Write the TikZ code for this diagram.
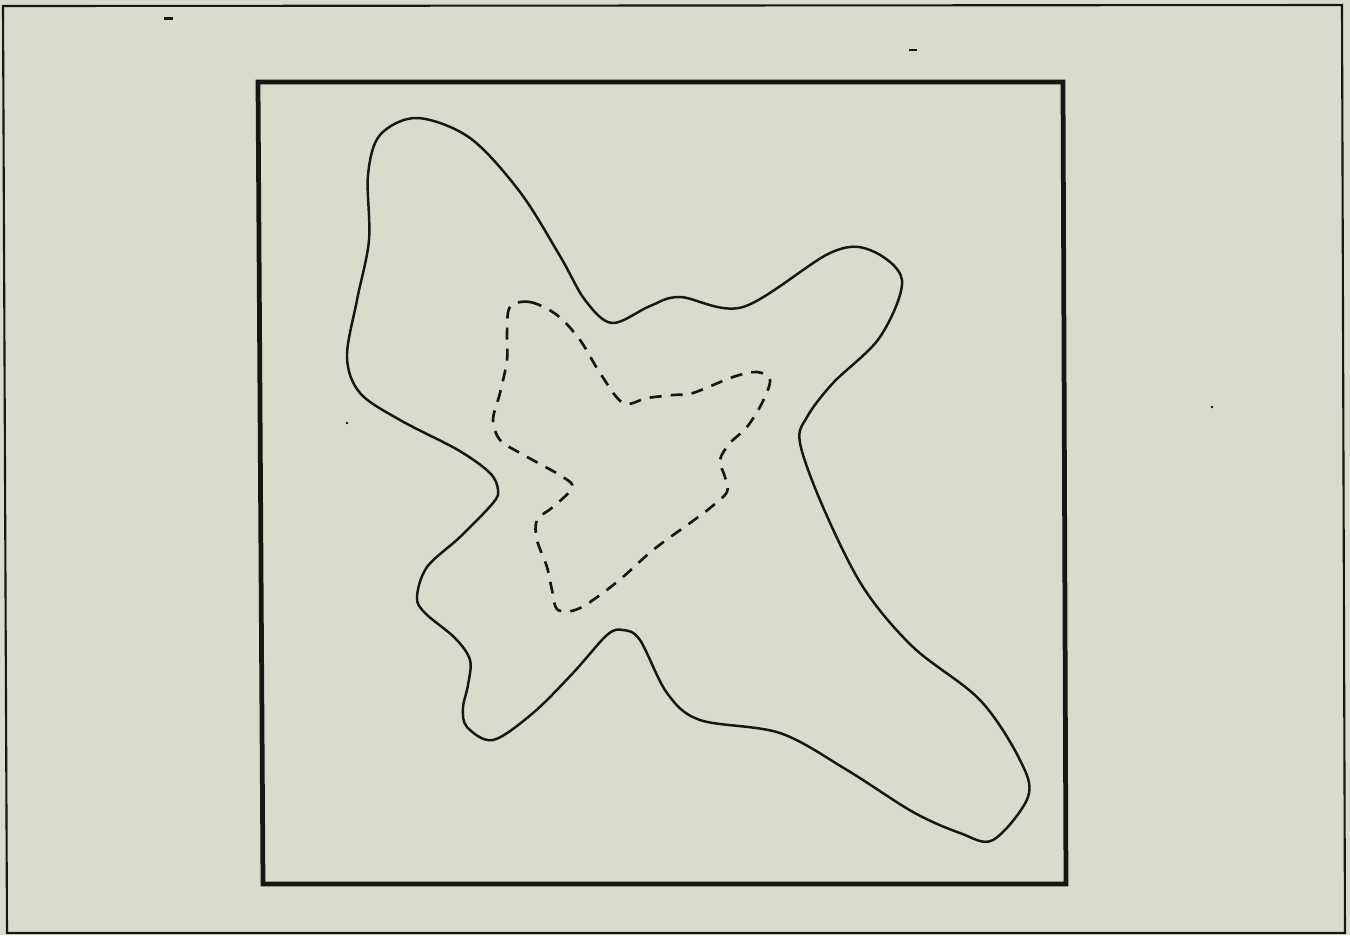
\documentclass[tikz,border=0pt]{standalone}
\definecolor{paper}{RGB}{217,219,203}
\definecolor{ink}{RGB}{22,22,18}
\tikzset{
  frameline/.style={draw=ink, line width=0.6pt},
  squareline/.style={draw=ink, line width=1.35pt, line join=miter},
  blobline/.style={draw=ink, line width=0.7pt},
  dashline/.style={draw=ink, line width=0.75pt, dash pattern=on 3.4pt off 2.6pt},
  speck/.style={fill=ink}
}
\begin{document}
\begin{tikzpicture}[x=0.01cm, y=-0.01cm]
\useasboundingbox (0,0) rectangle (1350,935);
\fill[paper] (0,0) rectangle (1350,935);
% outer frame
\draw[frameline] (3,6) -- (1342,5) -- (1345,933) -- (7,933) -- cycle;
% inner square
\draw[squareline] (258,82) -- (1063,82) -- (1066,884) -- (263,884) -- cycle;
% solid blob
\draw[blobline] plot[smooth cycle, tension=0.55] coordinates {
 (417,118) (470,138) (520,192) (560,256) (585,300) (612,323) (650,306)
 (680,297) (743,307) (830,253) (870,250) (902,280) (880,337) (833,383)
 (807,417) (800,443) (823,507) (863,587) (913,647) (980,700) (1020,760)
 (1028,797) (993,840) (960,833) (913,812) (847,770) (780,733) (700,720)
 (667,693) (640,640) (623,630) (607,635) (573,673) (533,713) (493,740)
 (467,727) (463,708) (468,685) (470,660) (455,638) (425,613) (417,597)
 (427,567) (460,537) (493,503) (498,490) (490,473) (458,450) (400,420)
 (360,393) (347,357) (357,300) (369,240) (368,175) (380,135)
};
% dashed inner curve
\draw[dashline] plot[smooth cycle, tension=0.55] coordinates {
 (510,307) (530,302) (557,315) (580,340) (600,373) (623,403) (647,398)
 (673,395) (693,393) (733,377) (757,372) (770,380) (762,403) (747,427)
 (730,443) (720,460) (725,477) (727,492) (710,508) (690,523) (653,550)
 (617,582) (580,608) (558,610) (552,590) (547,567) (537,540) (537,520)
 (553,507) (572,488) (563,477) (520,453) (500,440) (493,420) (500,393)
 (507,360) (507,333)
};
% specks
\fill[speck] (164,17) rectangle (173,20);
\fill[speck] (909,49) rectangle (917,51);
\fill[speck] (347,423) circle (1.3);
\fill[speck] (1212,407) circle (1.3);
\end{tikzpicture}
\end{document}
